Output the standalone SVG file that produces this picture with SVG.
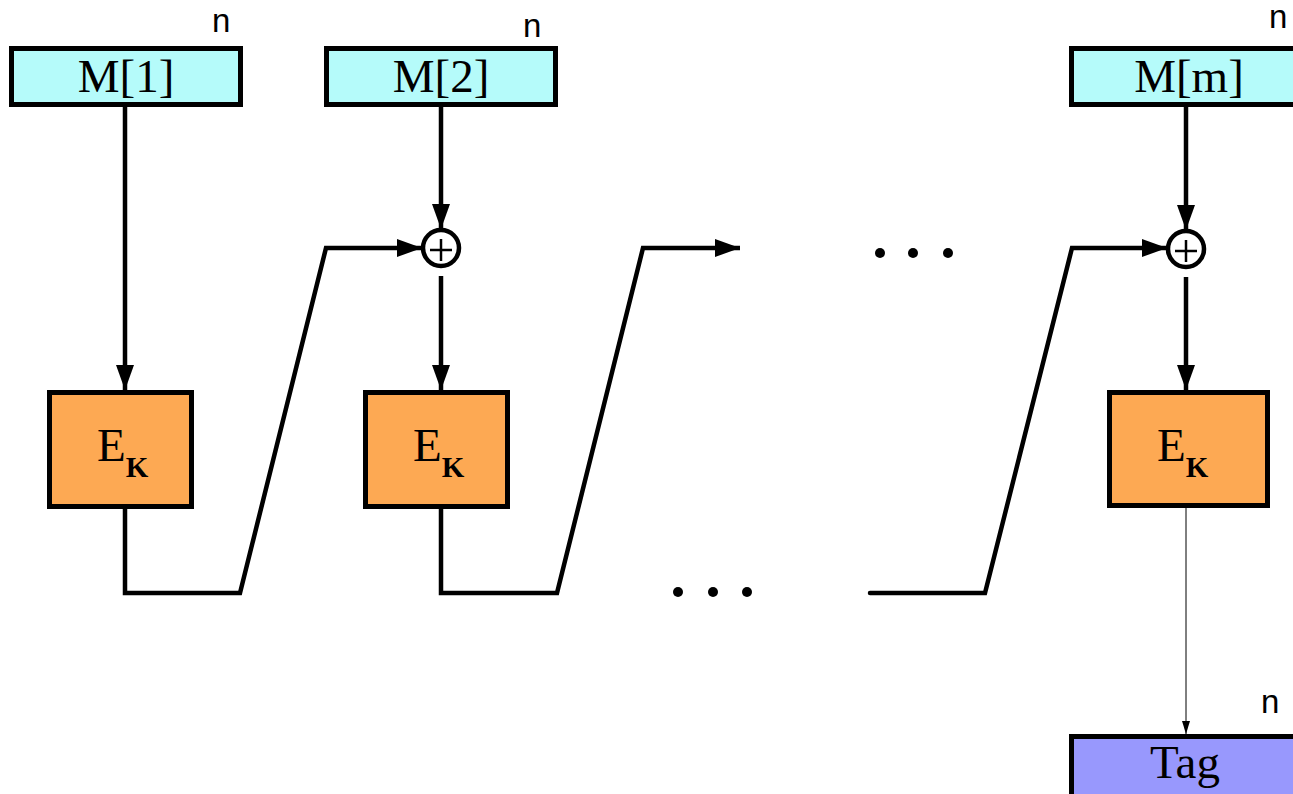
<svg xmlns="http://www.w3.org/2000/svg" width="1293" height="794" viewBox="0 0 1293 794">
  <defs>
    <style>
      .msg { fill: #b5fbfa; stroke: #000; stroke-width: 5; }
      .enc { fill: #fda953; stroke: #000; stroke-width: 5; }
      .tag { fill: #9898fd; stroke: #000; stroke-width: 5; }
      .lbl { font-family: "Liberation Serif", "Times New Roman", serif; font-size: 47px; fill: #000; }
      .sub { font-family: "Liberation Serif", "Times New Roman", serif; font-size: 29px; font-weight: bold; fill: #000; }
      .n { font-family: "Liberation Sans", Arial, sans-serif; font-size: 33px; fill: #000; }
      .wire { fill: none; stroke: #000; stroke-width: 4.5; stroke-linejoin: miter; }
      .thin { fill: none; stroke: #000; stroke-width: 1; }
      .xor { fill: #fff; stroke: #000; stroke-width: 4.5; }
      .plus { stroke: #000; stroke-width: 2.5; }
    </style>
    <marker id="head" markerUnits="userSpaceOnUse" markerWidth="26" markerHeight="19" refX="25" refY="9" orient="auto">
      <path d="M0,0 L25,9 L0,18 z" fill="#000"/>
    </marker>
    <marker id="headSmall" markerUnits="userSpaceOnUse" markerWidth="14" markerHeight="9" refX="13" refY="4" orient="auto">
      <path d="M0,0 L13,4 L0,8 z" fill="#000"/>
    </marker>
  </defs>

  <!-- message blocks -->
  <g id="m1">
    <rect class="msg" x="11.5" y="48.5" width="229" height="56"/>
    <text class="lbl" x="126" y="92" text-anchor="middle">M[1]</text>
    <text class="n" x="212" y="32">n</text>
  </g>
  <g id="m2">
    <rect class="msg" x="326.5" y="48.5" width="229" height="56"/>
    <text class="lbl" x="441" y="92" text-anchor="middle">M[2]</text>
    <text class="n" x="523" y="37">n</text>
  </g>
  <g id="mm">
    <rect class="msg" x="1071.5" y="48.5" width="229" height="56"/>
    <text class="lbl" x="1189" y="92" text-anchor="middle">M[m]</text>
    <text class="n" x="1269" y="28">n</text>
  </g>

  <!-- XOR junctions -->
  <g id="xor2">
    <circle class="xor" cx="441" cy="248" r="18"/>
    <line class="plus" x1="430" y1="250" x2="452" y2="250"/>
    <line class="plus" x1="441" y1="239" x2="441" y2="261"/>
  </g>
  <g id="xorm">
    <circle class="xor" cx="1186" cy="249" r="18"/>
    <line class="plus" x1="1175" y1="251" x2="1197" y2="251"/>
    <line class="plus" x1="1186" y1="240" x2="1186" y2="262"/>
  </g>

  <!-- block cipher stages -->
  <g id="e1">
    <rect class="enc" x="49.5" y="392.5" width="142" height="114"/>
    <text class="lbl" x="97" y="461">E<tspan class="sub" y="477">K</tspan></text>
  </g>
  <g id="e2">
    <rect class="enc" x="365.5" y="392.5" width="142" height="114"/>
    <text class="lbl" x="413" y="461">E<tspan class="sub" y="477">K</tspan></text>
  </g>
  <g id="em">
    <rect class="enc" x="1109.5" y="392.5" width="158" height="113"/>
    <text class="lbl" x="1157" y="461">E<tspan class="sub" y="477">K</tspan></text>
  </g>

  <!-- output tag -->
  <g id="tag">
    <rect class="tag" x="1071.5" y="736.5" width="234" height="60"/>
    <text class="lbl" x="1185" y="778" text-anchor="middle">Tag</text>
    <text class="n" x="1261" y="713">n</text>
  </g>

  <!-- elided middle stages -->
  <g id="ellipsis">
    <circle cx="880" cy="253" r="5"/>
    <circle cx="913" cy="253" r="5"/>
    <circle cx="948" cy="253" r="5"/>
    <circle cx="678" cy="592" r="5"/>
    <circle cx="713" cy="592" r="5"/>
    <circle cx="747" cy="592" r="5"/>
  </g>

  <!-- connectors -->
  <g id="connectors">
    <line class="wire" x1="125" y1="107" x2="125" y2="390" marker-end="url(#head)"/>
    <line class="wire" x1="441" y1="107" x2="441" y2="229" marker-end="url(#head)"/>
    <line class="wire" x1="441" y1="276" x2="441" y2="390" marker-end="url(#head)"/>
    <line class="wire" x1="1186" y1="107" x2="1186" y2="230" marker-end="url(#head)"/>
    <line class="wire" x1="1186" y1="277" x2="1186" y2="390" marker-end="url(#head)"/>
    <path class="wire" d="M125,509 V593 H240 L326,248 H422" marker-end="url(#head)"/>
    <path class="wire" d="M441,509 V593 H557 L643,248 H740" marker-end="url(#head)"/>
    <path class="wire" d="M870,593 H985 L1072,248 H1167" stroke-linecap="round" marker-end="url(#head)"/>
    <line class="thin" x1="1186" y1="508" x2="1186" y2="734" marker-end="url(#headSmall)"/>
  </g>
</svg>
